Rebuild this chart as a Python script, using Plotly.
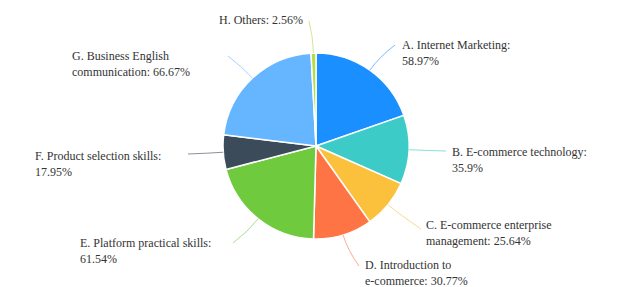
import math
import plotly.graph_objects as go

categories = ["A. Internet Marketing", "B. E-commerce technology", "C. E-commerce enterprise management",
              "D. Introduction to e-commerce", "E. Platform practical skills", "F. Product selection skills",
              "G. Business English communication", "H. Others"]
values = [58.97, 35.9, 25.64, 30.77, 61.54, 17.95, 66.67, 2.56]
label_texts = ["A. Internet Marketing:<br>58.97%", "B. E-commerce technology:<br>35.9%",
               "C. E-commerce enterprise<br>management: 25.64%", "D. Introduction to<br>e-commerce: 30.77%",
               "E. Platform practical skills:<br>61.54%", "F. Product selection skills:<br>17.95%",
               "G. Business English<br>communication: 66.67%", "H. Others: 2.56%"]
colors = ["#1a8fff", "#3dcbc8", "#fbc13d", "#fe7444", "#6fcb3d", "#3c4b5a", "#66b6ff", "#b5dc44"]

W, H = 630, 287
CX, CY, R = 316, 146, 93
FONT = "Liberation Serif"

# label layout (pixels): text top-left, leader line end
text_pos = [(400, 36), (450, 143), (424, 216), (363, 256), (78, 234), (33, 147), (70, 47), (217, 11)]
line_end = [(395, 45), (446, 151), (421, 229), (359, 266), (233, 243), (188, 154), (228, 56), (309, 21)]

def px(x):
    return x / W

def py(y):
    return 1 - y / H

fig = go.Figure(go.Pie(
    labels=categories, values=values, sort=False, direction="clockwise", rotation=0,
    marker=dict(colors=colors, line=dict(color="white", width=1.5)),
    textinfo="none", hoverinfo="label+value", showlegend=False,
    domain=dict(x=[px(CX - R), px(CX + R)], y=[py(CY + R), py(CY - R)]),
))

total = sum(values)
cum = 0
for i, v in enumerate(values):
    mid = (cum + v / 2) / total * 2 * math.pi
    cum += v
    dx, dy = math.sin(mid), -math.cos(mid)
    x0, y0 = CX + R * dx, CY + R * dy
    cxp, cyp = CX + (R + 16) * dx, CY + (R + 16) * dy
    x1, y1 = line_end[i]
    fig.add_shape(type="path", xref="paper", yref="paper",
                  path=f"M {px(x0)},{py(y0)} Q {px(cxp)},{py(cyp)} {px(x1)},{py(y1)}",
                  line=dict(color=colors[i], width=1), opacity=0.6)
    tx, ty = text_pos[i]
    fig.add_annotation(x=px(tx), y=py(ty), xref="paper", yref="paper", xanchor="left", yanchor="top",
                       text=label_texts[i], showarrow=False, align="left",
                       font=dict(family=FONT, size=12, color="#333"))

fig.update_layout(width=W, height=H, margin=dict(l=0, r=0, t=0, b=0),
                  paper_bgcolor="white", plot_bgcolor="white")
fig.write_html("out.html", config={"displayModeBar": False},
               post_script="document.body.style.margin='0';")
